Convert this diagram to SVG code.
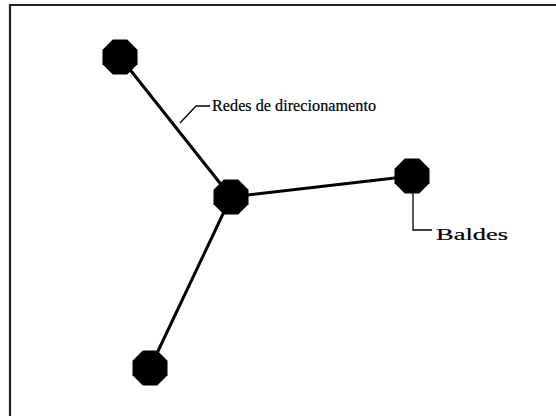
<svg xmlns="http://www.w3.org/2000/svg" width="556" height="416" viewBox="0 0 556 416">
<style>
.edge{stroke:#000;stroke-width:3;fill:none;stroke-linecap:round}
.leader{stroke:#000;stroke-width:1.3;fill:none}
.lbl{font-family:"Liberation Serif","DejaVu Serif",serif;font-size:17px;fill:#000;stroke:#000;stroke-width:0.2}
.node{fill:#000}
</style>
<defs>
<polygon id="oct" points="7.25,-17.5 17.5,-7.25 17.5,7.25 7.25,17.5 -7.25,17.5 -17.5,7.25 -17.5,-7.25 -7.25,-17.5"/>
</defs>
<rect width="556" height="416" fill="#fff"/>
<path d="M10,416 V5 H556" fill="none" stroke="#222" stroke-width="2.2"/>
<g id="connectors">
<line class="edge" x1="120" y1="57" x2="231" y2="197"/>
<line class="edge" x1="231" y1="197" x2="412" y2="176"/>
<line class="edge" x1="231" y1="197" x2="150" y2="368"/>
<polyline class="leader" points="180,123 196,106 210,106"/>
<polyline class="leader" points="413,192 413,230 432,230"/>
</g>
<g id="node-top-left"><use href="#oct" class="node" x="120" y="57"/></g>
<g id="node-center"><use href="#oct" class="node" x="231" y="197"/></g>
<g id="node-right"><use href="#oct" class="node" x="412" y="176"/></g>
<g id="node-bottom"><use href="#oct" class="node" x="150" y="368"/></g>
<g id="label-redes"><text class="lbl" x="212" y="111" textLength="164" lengthAdjust="spacingAndGlyphs">Redes de direcionamento</text></g>
<g id="label-baldes"><text class="lbl" x="436" y="240" textLength="72" lengthAdjust="spacingAndGlyphs">Baldes</text></g>
</svg>
